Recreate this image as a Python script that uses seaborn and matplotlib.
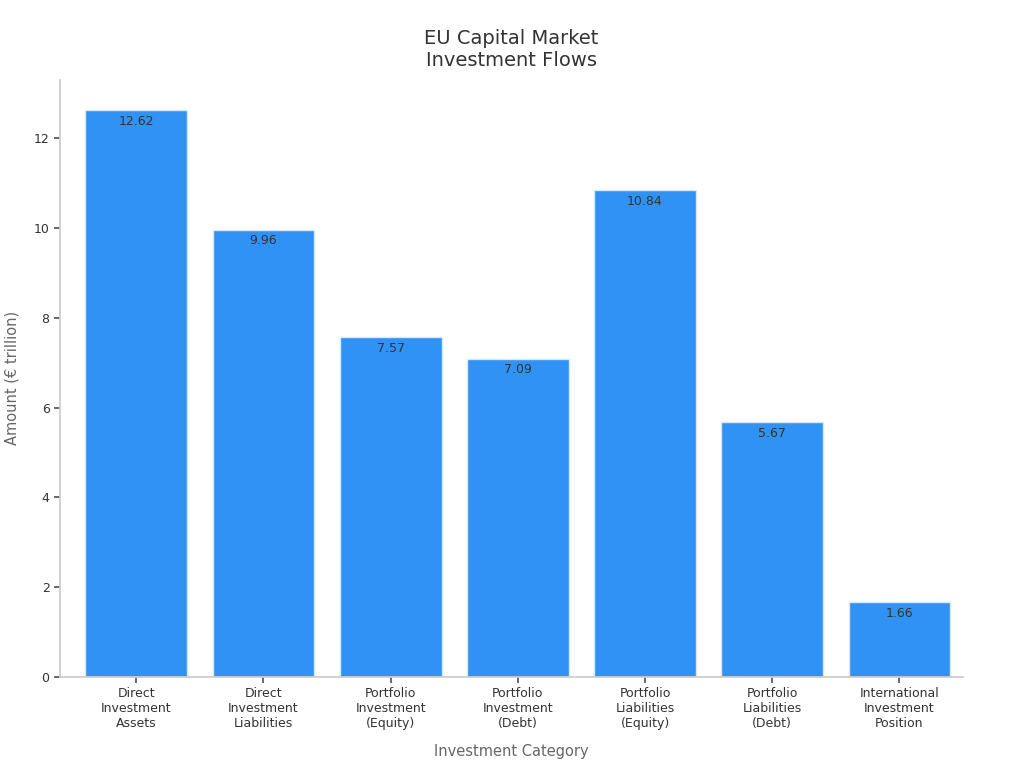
import matplotlib
matplotlib.use("Agg")
import matplotlib.pyplot as plt
import seaborn as sns
import pandas as pd

categories = ["Direct\nInvestment\nAssets", "Direct\nInvestment\nLiabilities", "Portfolio\nInvestment\n(Equity)",
              "Portfolio\nInvestment\n(Debt)", "Portfolio\nLiabilities\n(Equity)", "Portfolio\nLiabilities\n(Debt)",
              "International\nInvestment\nPosition"]
values = [12.62, 9.96, 7.57, 7.09, 10.84, 5.67, 1.66]

sns.set_theme(style="white")
plt.rcParams['font.family'] = ['DejaVu Sans']
df = pd.DataFrame({"cat": categories, "val": values})

fig = plt.figure(figsize=(10.24, 7.68), dpi=100)
ax = fig.add_axes([0.0586, 0.1185, 0.8818, 0.7775])
sns.barplot(data=df, x="cat", y="val", color="#3092F5", saturation=1, width=0.8,
            edgecolor="#d8e8f8", linewidth=1, ax=ax)
for p, v in zip(ax.patches, values):
    ax.text(p.get_x() + p.get_width() / 2, v - 0.1, f"{v:.2f}", ha="center", va="top",
            fontsize=9, color="#333333")
ax.set_ylim(0, 13.3)
ax.set_xlim(-0.6, 6.5)
ax.set_yticks([0, 2, 4, 6, 8, 10, 12])
ax.tick_params(axis="both", labelsize=9, colors="#333333", length=4, left=True, bottom=True)
ax.tick_params(axis="both", color="#555555")
sns.despine(ax=ax)
for s in ["left", "bottom"]:
    ax.spines[s].set_color("#cccccc")
ax.set_xlabel("Investment Category", fontsize=10.5, color="#666666", labelpad=10)
ax.set_ylabel("Amount (€ trillion)", fontsize=10.5, color="#666666", labelpad=10)
ax.set_title("EU Capital Market\nInvestment Flows", fontsize=14, color="#333333", pad=10)
fig.savefig("out.png", dpi=100)
